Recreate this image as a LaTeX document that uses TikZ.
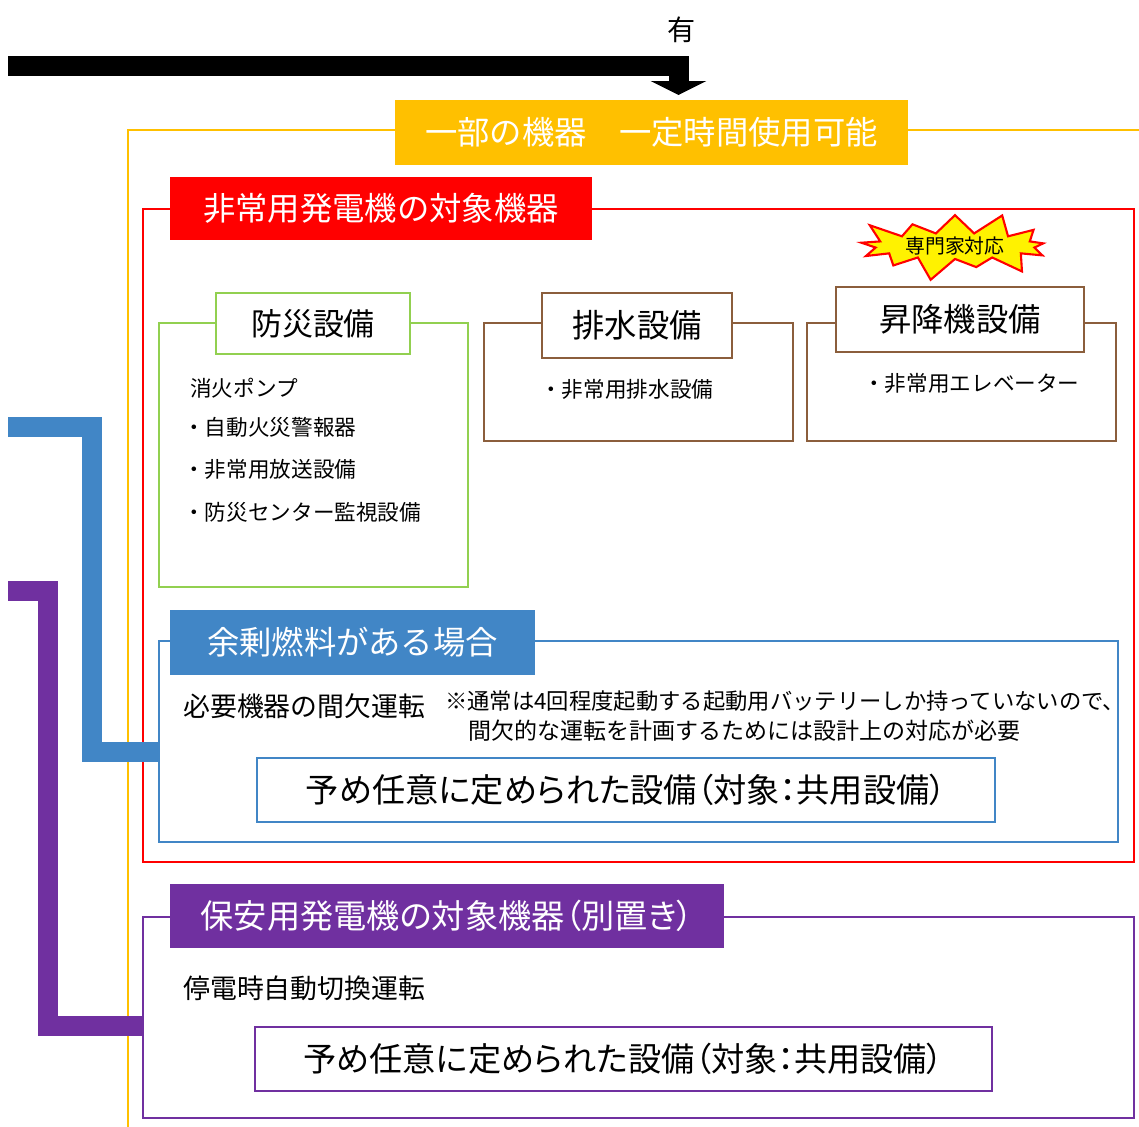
\documentclass[tikz,border=0pt]{standalone}
\usepackage{fontspec}
\setmainfont{Noto Sans CJK JP}
\usepackage{tikz}
\usetikzlibrary{shapes.symbols, arrows.meta, calc}
\definecolor{hdorange}{HTML}{FFC000}
\definecolor{hdred}{HTML}{FF0000}
\definecolor{hdgreen}{HTML}{92D050}
\definecolor{hdbrown}{HTML}{8B5E3C}
\definecolor{hdblue}{HTML}{4186C6}
\definecolor{hdpurple}{HTML}{7030A0}
\newcommand{\pxl}{0.02cm}
\newcommand{\titlefont}{\fontsize{18.4pt}{20pt}\selectfont}
\newcommand{\headfont}{\fontsize{17.6pt}{20pt}\selectfont}
\newcommand{\setfont}{\fontsize{18.9pt}{20pt}\selectfont\addfontfeatures{RawFeature=+palt}}
\newcommand{\itemfont}{\fontsize{12.3pt}{14pt}\selectfont}
\newcommand{\notefont}{\fontsize{12.7pt}{14pt}\selectfont}
\newcommand{\runfont}{\fontsize{15.3pt}{16pt}\selectfont}
\tikzset{titlebox/.style={rectangle, inner sep=0pt, outer sep=0pt, text=white, font=\titlefont}}
\tikzset{framebox/.style={rectangle, draw, inner sep=0pt, outer sep=0pt, line width=0.6pt}}
\tikzset{headbox/.style={rectangle, draw, fill=white, inner sep=0pt, outer sep=0pt, line width=1.3pt, font=\titlefont}}
\tikzset{item/.style={anchor=west, inner sep=0pt, font=\itemfont}}
\tikzset{feedline/.style={line width=20*\pxl}}

\begin{document}
\begin{tikzpicture}[x=\pxl, y=-\pxl]
\useasboundingbox (0,0) rectangle (1139,1126);
\clip (0,0) rectangle (1139,1126);

% outer frames
\node [framebox, draw=hdorange, minimum width=1060*\pxl, minimum height=1030*\pxl] (orfr) at (658,645) {};
\node [framebox, draw=hdred, minimum width=991*\pxl, minimum height=653*\pxl] (redfr) at (638.5,535.5) {};
\node [framebox, draw=hdgreen, minimum width=309*\pxl, minimum height=264*\pxl] (grfr) at (313.5,455) {};
\node [framebox, draw=hdbrown, minimum width=309*\pxl, minimum height=118*\pxl] (drfr) at (638.5,382) {};
\node [framebox, draw=hdbrown, minimum width=309*\pxl, minimum height=118*\pxl] (elfr) at (961.5,382) {};
\node [framebox, draw=hdblue, minimum width=959*\pxl, minimum height=201*\pxl] (blfr) at (638.5,741.5) {};
\node [framebox, draw=hdpurple, minimum width=991*\pxl, minimum height=201*\pxl] (pufr) at (638.5,1017.5) {};

% title boxes
\node [] (yes) at (682,30) {\fontsize{16pt}{18pt}\selectfont 有};
\node [titlebox, fill=hdorange, minimum width=513*\pxl, minimum height=65*\pxl] (orhd) at (651.5,132.5) {一部の機器　一定時間使用可能};
\node [titlebox, fill=hdred, minimum width=422*\pxl, minimum height=63*\pxl] (redhd) at (381,208.5) {非常用発電機の対象機器};
\node [titlebox, fill=hdblue, minimum width=365*\pxl, minimum height=65*\pxl] (blhd) at (352.5,642.5) {余剰燃料がある場合};
\node [titlebox, fill=hdpurple, minimum width=554*\pxl, minimum height=64*\pxl, font=\fontsize{18.9pt}{20pt}\selectfont\addfontfeatures{RawFeature=+palt}] (puhd) at (447,916) {保安用発電機の対象機器（別置き）};

\node [headbox, draw=hdgreen, minimum width=194*\pxl, minimum height=61*\pxl, font=\headfont] (grhd) at (313,323.5) {防災設備};
\node [headbox, draw=hdbrown, minimum width=190*\pxl, minimum height=65*\pxl] (drhd) at (637,325.5) {排水設備};
\node [headbox, draw=hdbrown, minimum width=248*\pxl, minimum height=65*\pxl] (elhd) at (960,319.5) {昇降機設備};

\node [starburst, starburst points=13, starburst point height=0.5cm, fill=yellow, draw=hdred, line width=1.2pt,
minimum width=4.2cm, minimum height=1.0cm, inner sep=0pt,
font=\fontsize{11.3pt}{12pt}\selectfont] (expert) at (955,246) {専門家対応};

% items
\node [item] (fire1) at (190,388) {消火ポンプ};
\node [item] (fire2) at (183,427) {・自動火災警報器};
\node [item] (fire3) at (183,469) {・非常用放送設備};
\node [item] (fire4) at (183,512) {・防災センター監視設備};
\node [item] (drain1) at (540,389) {・非常用排水設備};
\node [item] (elev1) at (863,383) {・非常用エレベーター};

\node [item, font=\runfont] (blrun) at (183,706) {必要機器の間欠運転};
\node [item, font=\notefont] (note1) at (445,701) {※通常は4回程度起動する起動用バッテリーしか持っていないので、};
\node [item, font=\fontsize{13.1pt}{14pt}\selectfont] (note2) at (468,731) {間欠的な運転を計画するためには設計上の対応が必要};
\node [item, font=\runfont] (purun) at (183,988) {停電時自動切換運転};

\node [headbox, draw=hdblue, minimum width=738*\pxl, minimum height=64*\pxl, font=\setfont] (blset) at (626,790) {予め任意に定められた設備（対象：共用設備）};
\node [headbox, draw=hdpurple, minimum width=737*\pxl, minimum height=64*\pxl, font=\setfont] (puset) at (623.5,1059) {予め任意に定められた設備（対象：共用設備）};

% connectors
\coordinate (arin) at (8,66);
\coordinate (arout) at ($(orhd.north)+(27,-5)$);
\coordinate (blin) at (8,426.5);
\coordinate (puin) at (8,590.5);

\draw [feedline, -{Triangle[width=55*\pxl, length=14*\pxl]}] (arin) -| (arout);
\draw [feedline, hdblue] (blin) -| ($(blfr.west)+(-67,10)$) -- ($(blfr.west)+(0,10)$);
\draw [feedline, hdpurple] (puin) -| ($(pufr.west)+(-95,8.5)$) -- ($(pufr.west)+(0,8.5)$);

\end{tikzpicture}
\end{document}
